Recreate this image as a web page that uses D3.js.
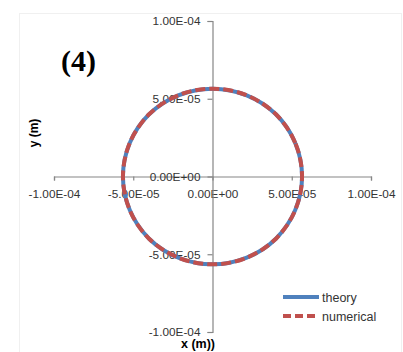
<!DOCTYPE html>
<html>
<head>
<meta charset="utf-8">
<script src="https://cdnjs.cloudflare.com/ajax/libs/d3/7.8.5/d3.min.js"></script>
<style>
    body { margin: 0; background: #fff; }
    svg { display: block; }
</style>
</head>
<body>
<svg id="chart" width="403" height="352"></svg>
<script>
// tick values for both axes
const xTicks = [-1e-4, -5e-5, 0, 5e-5, 1e-4];
const yTicks = [-1e-4, -5e-5, 0, 5e-5, 1e-4];

// points (metres)
const theoryX = [5.65e-5, 5.22e-5, 4.00e-5, 2.16e-5, 0, -2.16e-5, -4.00e-5, -5.22e-5,
                 -5.65e-5, -5.22e-5, -4.00e-5, -2.16e-5, 0, 2.16e-5, 4.00e-5, 5.22e-5];
const theoryY = [0, 2.16e-5, 4.00e-5, 5.22e-5, 5.65e-5, 5.22e-5, 4.00e-5, 2.16e-5,
                 0, -2.16e-5, -4.00e-5, -5.22e-5, -5.65e-5, -5.22e-5, -4.00e-5, -2.16e-5];
const numericalX = [5.65e-5, 5.22e-5, 4.00e-5, 2.16e-5, 0, -2.16e-5, -4.00e-5, -5.22e-5,
                    -5.65e-5, -5.22e-5, -4.00e-5, -2.16e-5, 0, 2.16e-5, 4.00e-5, 5.22e-5];
const numericalY = [0, 2.16e-5, 4.00e-5, 5.22e-5, 5.65e-5, 5.22e-5, 4.00e-5, 2.16e-5,
                    0, -2.16e-5, -4.00e-5, -5.22e-5, -5.65e-5, -5.22e-5, -4.00e-5, -2.16e-5];

const seriesNames = ["theory", "numerical"];

const svg = d3.select("#chart");
const fmt = v => v.toExponential(2).replace(/e([+-])(\d)$/, "E$10$2").toUpperCase();
const labelFont = "'Liberation Sans', Arial, sans-serif";

// faint chart border
svg.append("rect")
    .attr("x", 19.5).attr("y", 13.5)
    .attr("width", 382).attr("height", 345)
    .attr("fill", "none")
    .attr("stroke", "#f0f0f0");

const x = d3.scaleLinear().domain([-1e-4, 1e-4]).range([54, 371]);
const y = d3.scaleLinear().domain([-1e-4, 1e-4]).range([332, 21]);

// x axis through y = 0, ticks pointing down
const xAxis = svg.append("g")
    .attr("transform", `translate(0,${y(0)})`)
    .call(d3.axisBottom(x).tickValues(xTicks).tickSize(4).tickPadding(9).tickFormat(fmt));

// y axis through x = 0, ticks pointing left
const yAxis = svg.append("g")
    .attr("transform", `translate(${x(0)},0)`)
    .call(d3.axisLeft(y).tickValues(yTicks).tickSize(5).tickPadding(7).tickFormat(fmt));

[xAxis, yAxis].forEach(g => {
    g.select(".domain").attr("stroke", "#868686").attr("stroke-width", 1.2);
    g.selectAll(".tick line").attr("stroke", "#868686").attr("stroke-width", 1.2);
    g.selectAll(".tick text")
        .attr("fill", "#333")
        .style("font-family", labelFont)
        .style("font-size", "11.8px");
});

// draw the two series
const line = d3.line()
    .x(d => x(d[0]))
    .y(d => y(d[1]))
    .curve(d3.curveCatmullRomClosed);

const theoryPts = theoryX.map((v, i) => [v, theoryY[i]]);
const numericalPts = numericalX.map((v, i) => [v, numericalY[i]]);

svg.append("path")
    .attr("d", line(theoryPts))
    .attr("fill", "none")
    .attr("stroke", "#4F81BD")
    .attr("stroke-width", 4);

svg.append("path")
    .attr("d", line(numericalPts))
    .attr("fill", "none")
    .attr("stroke", "#C0504D")
    .attr("stroke-width", 4)
    .attr("stroke-dasharray", "10,4");

// axis titles
svg.append("text")
    .attr("transform", "translate(38,133) rotate(-90)")
    .attr("text-anchor", "middle")
    .style("font-family", labelFont)
    .style("font-weight", "bold")
    .style("font-size", "12px")
    .text("y (m)");

svg.append("text")
    .attr("x", 198).attr("y", 348)
    .attr("text-anchor", "middle")
    .style("font-family", labelFont)
    .style("font-weight", "bold")
    .style("font-size", "12.5px")
    .text("x (m))");

// panel label
svg.append("text")
    .attr("x", 61).attr("y", 71)
    .style("font-family", "'Liberation Serif', 'Times New Roman', serif")
    .style("font-weight", "bold")
    .style("font-size", "30px")
    .text("(4)");

// legend
const legend = svg.append("g").attr("transform", "translate(283,297)");
const legendColors = ["#4F81BD", "#C0504D"];
const legendDash = [null, "8,4"];

seriesNames.forEach((name, i) => {
    legend.append("line")
        .attr("x1", 0).attr("x2", 36)
        .attr("y1", i * 19).attr("y2", i * 19)
        .attr("stroke", legendColors[i])
        .attr("stroke-width", 4)
        .attr("stroke-dasharray", legendDash[i]);

    legend.append("text")
        .attr("x", 39)
        .attr("y", i * 19 + 4.5)
        .attr("fill", "#333")
        .style("font-family", labelFont)
        .style("font-size", "12.5px")
        .text(name);
});
</script>
</body>
</html>
